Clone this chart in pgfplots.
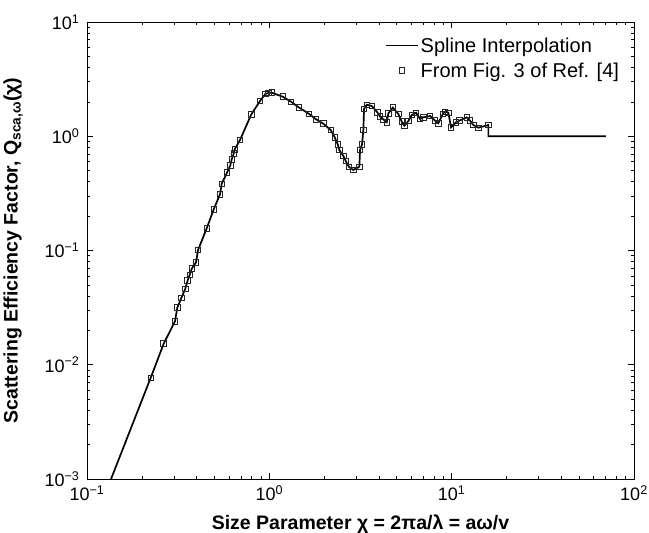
\documentclass[border=0pt]{standalone}
\usepackage{fontspec}
\setmainfont{Liberation Sans}
\usepackage{pgfplots}
\usepackage{pgfplotstable}
\pgfplotsset{compat=1.18}

% points read off Fig. 3 of Ref. [4]
\pgfplotstableread{
x y
0.2236 0.0077
0.2634 0.0153
0.3039 0.0240
0.3128 0.0316
0.3291 0.0384
0.3461 0.0463
0.3567 0.0548
0.3661 0.0614
0.3754 0.0693
0.3963 0.0789
0.4065 0.1010
0.4535 0.1564
0.4955 0.2294
0.5366 0.3103
0.5482 0.3843
0.5861 0.4797
0.6110 0.5566
0.6219 0.6283
0.6378 0.7036
0.6458 0.7688
0.6907 0.9273
0.7966 1.556
0.8892 2.035
0.9508 2.344
0.9874 2.391
1.031 2.406
1.184 2.220
1.315 2.006
1.450 1.792
1.645 1.575
1.804 1.407
1.978 1.288
2.172 1.134
2.284 0.979
2.372 0.850
2.421 0.758
2.546 0.672
2.624 0.607
2.737 0.538
2.889 0.507
3.117 0.541
3.145 0.758
3.225 0.850
3.279 1.134
3.308 1.742
3.422 1.888
3.646 1.840
3.913 1.621
4.050 1.483
4.222 1.407
4.406 1.325
4.496 1.588
4.753 1.778
5.102 1.566
5.326 1.341
5.503 1.237
5.789 1.360
6.043 1.535
6.381 1.607
6.712 1.416
6.998 1.465
7.612 1.504
8.108 1.368
8.453 1.298
8.937 1.566
9.201 1.640
9.592 1.607
9.925 1.198
10.57 1.325
11.02 1.368
12.10 1.465
12.62 1.368
13.15 1.254
14.01 1.188
15.90 1.254
}\measured

% spline through the points, Rayleigh tail below, constant 1 above
\pgfplotstableread{
x y
0.1355 0.0010
0.2236 0.0077
0.2634 0.0153
0.3039 0.0240
0.3128 0.0316
0.3291 0.0384
0.3461 0.0463
0.3567 0.0548
0.3661 0.0614
0.3754 0.0693
0.3963 0.0789
0.4065 0.1010
0.4535 0.1564
0.4955 0.2294
0.5366 0.3103
0.5482 0.3843
0.5861 0.4797
0.6110 0.5566
0.6219 0.6283
0.6378 0.7036
0.6458 0.7688
0.6907 0.9273
0.7966 1.556
0.8892 2.035
0.9508 2.344
0.9874 2.391
1.031 2.406
1.184 2.220
1.315 2.006
1.450 1.792
1.645 1.575
1.804 1.407
1.978 1.288
2.172 1.134
2.284 0.979
2.372 0.850
2.421 0.758
2.546 0.672
2.624 0.607
2.737 0.538
2.889 0.507
3.117 0.541
3.145 0.758
3.225 0.850
3.279 1.134
3.308 1.742
3.422 1.888
3.646 1.840
3.913 1.621
4.050 1.483
4.222 1.407
4.406 1.325
4.496 1.588
4.753 1.778
5.102 1.566
5.326 1.341
5.503 1.237
5.789 1.360
6.043 1.535
6.381 1.607
6.712 1.416
6.998 1.465
7.612 1.504
8.108 1.368
8.453 1.298
8.937 1.566
9.201 1.640
9.592 1.607
9.925 1.198
10.57 1.325
11.02 1.368
12.10 1.465
12.62 1.368
13.15 1.254
14.01 1.188
15.90 1.254
15.90 1.000
70.0 1.000
}\spline

\newcommand\powten[1]{\pgfmathtruncatemacro{\e}{round(#1)}10\textsuperscript{\ifnum\e<0 −\number\numexpr-\e\relax\else\e\fi}}

\pgfplotsset{
    lineleg/.style={legend image code/.code={\draw[##1] (0pt,0pt) -- (32pt,0pt);}},
    markleg/.style={legend image code/.code={\draw[##1,mark repeat=2,mark phase=2]
        plot coordinates {(0pt,0pt) (16pt,0pt) (32pt,0pt)};}},
}

\begin{document}
\begin{tikzpicture}
\begin{axis}[
    scale only axis,
    width=547pt,
    height=457pt,
    xmode=log, ymode=log,
    log basis x=10, log basis y=10,
    xmin=0.1, xmax=100,
    ymin=1e-3, ymax=10,
    tick align=inside,
    major tick length=6pt,
    minor tick length=3.5pt,
    every tick/.style={black, line width=0.6pt},
    axis line style={line width=0.8pt},
    xticklabel={\powten{\tick}},
    yticklabel={\powten{\tick}},
    ticklabel style={font=\fontsize{18}{21}\selectfont},
    xticklabel style={yshift=-3pt},
    yticklabel style={xshift=-4pt},
    xlabel={Size Parameter χ = 2πa/λ = aω/v},
    ylabel={Scattering Efficiency Factor, Q\textsubscript{sca,ω}(χ)},
    label style={font=\fontsize{19.5}{22}\selectfont\bfseries},
    xlabel style={at={(axis description cs:0.5,-0.111)}, anchor=base},
    ylabel style={at={(axis description cs:-0.127,0.5)}, anchor=base},
    legend style={draw=none, fill=none, at={(0.982,0.975)}, anchor=north east,
        font=\fontsize{20}{23}\selectfont, row sep=5pt, cells={anchor=west}},
]
\addplot[black, line width=1.7pt, lineleg] table {\spline};
\addlegendentry{Spline Interpolation}
\addplot[only marks, mark=square, mark size=2.8pt,
    mark options={draw=black!85, line width=0.8pt, fill=none}, markleg]
    table {\measured};
\addlegendentry{From Fig. 3 of Ref. [4]}
\end{axis}
\pgfresetboundingbox
\path (current axis.south west) ++(-87pt,-54pt) rectangle
      ([xshift=15pt,yshift=22pt]current axis.north east);
\end{tikzpicture}
\end{document}
